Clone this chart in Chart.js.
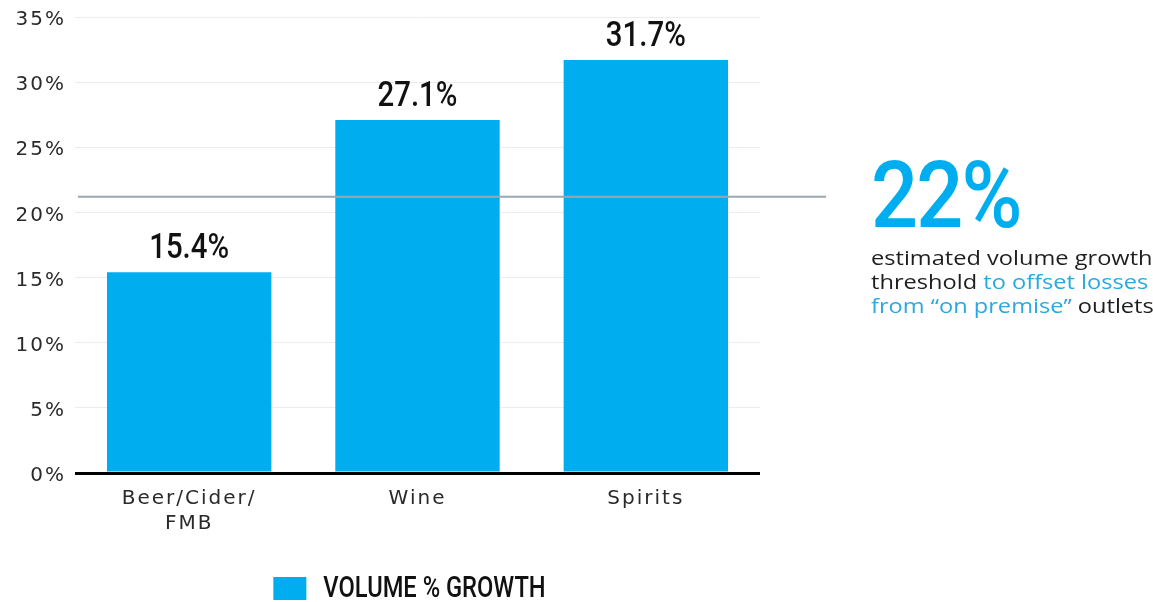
<!DOCTYPE html>
<html>
<head>
<meta charset="utf-8">
<script src="https://cdn.jsdelivr.net/npm/chart.js@4.4.0/dist/chart.umd.min.js"></script>
<style>
  html, body { margin: 0; padding: 0; background: #fff; }
  #wrap { position: relative; width: 1153px; height: 602px; }
  #note { position: absolute; left: 871px; top: 150px; font-family: "Open Sans", sans-serif; color: #1e1e1e; }
  #big { font-family: Roboto, sans-serif; font-weight: 500; font-size: 92px; color: #00aeef; line-height: 92px; transform: scaleX(0.9); transform-origin: left top; letter-spacing: -2px; }
  #txt { margin-top: 4px; font-size: 20px; line-height: 24px; white-space: nowrap; transform: scaleX(1.18); transform-origin: left top; }
  .blue { color: #29a9e1; }
</style>
</head>
<body>
<div id="wrap">
  <canvas id="c" width="1153" height="602"></canvas>
  <div id="note">
    <div id="big">22%</div>
    <div id="txt">estimated volume growth<br>threshold <span class="blue">to offset losses</span><br><span class="blue">from “on premise”</span> outlets</div>
  </div>
</div>
<script>
const categories = [["Beer/Cider/", "FMB"], "Wine", "Spirits"];
const volumeGrowth = [15.4, 27.1, 31.7];
const seriesLabel = "VOLUME % GROWTH";
const thresholdValue = 21.2;
const yTicks = { min: 0, max: 35, step: 5 };

const BLUE = "#00aeef";

function condensedText(ctx, text, x, y, font, scaleX, align) {
  ctx.save();
  ctx.letterSpacing = "0px";
  ctx.font = font;
  const w = ctx.measureText(text).width * scaleX;
  let left = x;
  if (align === "center") left = x - w / 2;
  ctx.translate(left, y);
  ctx.scale(scaleX, 1);
  ctx.textAlign = "left";
  ctx.fillText(text, 0, 0);
  ctx.restore();
  return w;
}

const LS = "2px";
const spacing = {
  id: "spacing",
  beforeInit(chart) { chart.ctx.letterSpacing = LS; },
  beforeUpdate(chart) { chart.ctx.letterSpacing = LS; },
  beforeDraw(chart) { chart.ctx.letterSpacing = LS; }
};

const overlay = {
  id: "overlay",
  afterDatasetsDraw(chart) {
    const ctx = chart.ctx;
    const y = chart.scales.y;
    const area = chart.chartArea;
    // threshold line
    const ty = y.getPixelForValue(thresholdValue);
    ctx.save();
    ctx.strokeStyle = "#9ba7b0";
    ctx.lineWidth = 2;
    ctx.beginPath();
    ctx.moveTo(area.left + 3, ty);
    ctx.lineTo(area.right + 66, ty);
    ctx.stroke();
    ctx.restore();
    // value labels
    const meta = chart.getDatasetMeta(0);
    ctx.save();
    ctx.fillStyle = "#111";
    ctx.textBaseline = "alphabetic";
    meta.data.forEach((bar, i) => {
      const v = chart.data.datasets[0].data[i];
      condensedText(ctx, v.toFixed(1) + "%", bar.x, bar.y - 14, '500 35px Roboto', 0.84, "center");
    });
    ctx.restore();
    // legend
    const ds = chart.data.datasets[0];
    const cx = (area.left + area.right) / 2 - 8;
    ctx.save();
    ctx.letterSpacing = "0px";
    ctx.font = '500 30px Roboto';
    const tw = ctx.measureText(ds.label).width * 0.79;
    const total = 33 + 17 + tw;
    const lx = cx - total / 2;
    ctx.fillStyle = ds.backgroundColor;
    ctx.fillRect(lx, 577, 33, 23);
    ctx.fillStyle = "#111";
    condensedText(ctx, ds.label, lx + 50, 597, '500 30px Roboto', 0.79, "left");
    ctx.restore();
  }
};

new Chart(document.getElementById("c"), {
  type: "bar",
  data: {
    labels: categories,
    datasets: [{
      label: seriesLabel,
      data: volumeGrowth,
      backgroundColor: BLUE,
      borderWidth: 0,
      categoryPercentage: 0.9,
      barPercentage: 0.8
    }]
  },
  options: {
    responsive: false,
    animation: false,
    layout: { padding: { top: 0, right: 393, bottom: 49, left: 0 } },
    plugins: { legend: { display: false }, tooltip: { enabled: false } },
    scales: {
      x: {
        grid: { display: false, drawTicks: false },
        border: { display: false },
        ticks: { color: "#2a2a2a", font: { family: "DejaVu Sans", size: 20, lineHeight: 1.25 }, padding: 13 },
        afterFit(s) { s.height = 80; }
      },
      y: {
        min: yTicks.min, max: yTicks.max,
        grid: {
          drawTicks: false,
          color: c => c.tick && c.tick.value === 0 ? "#000" : "#ececec",
          lineWidth: c => c.tick && c.tick.value === 0 ? 3 : 1
        },
        border: { display: false },
        ticks: { stepSize: yTicks.step, color: "#2a2a2a", font: { family: "DejaVu Sans", size: 20, lineHeight: 0.8 }, padding: 9, labelOffset: 3, callback: v => v + "%" },
        afterFit(s) { s.width = 75; }
      }
    }
  },
  plugins: [spacing, overlay]
});
</script>
</body>
</html>
